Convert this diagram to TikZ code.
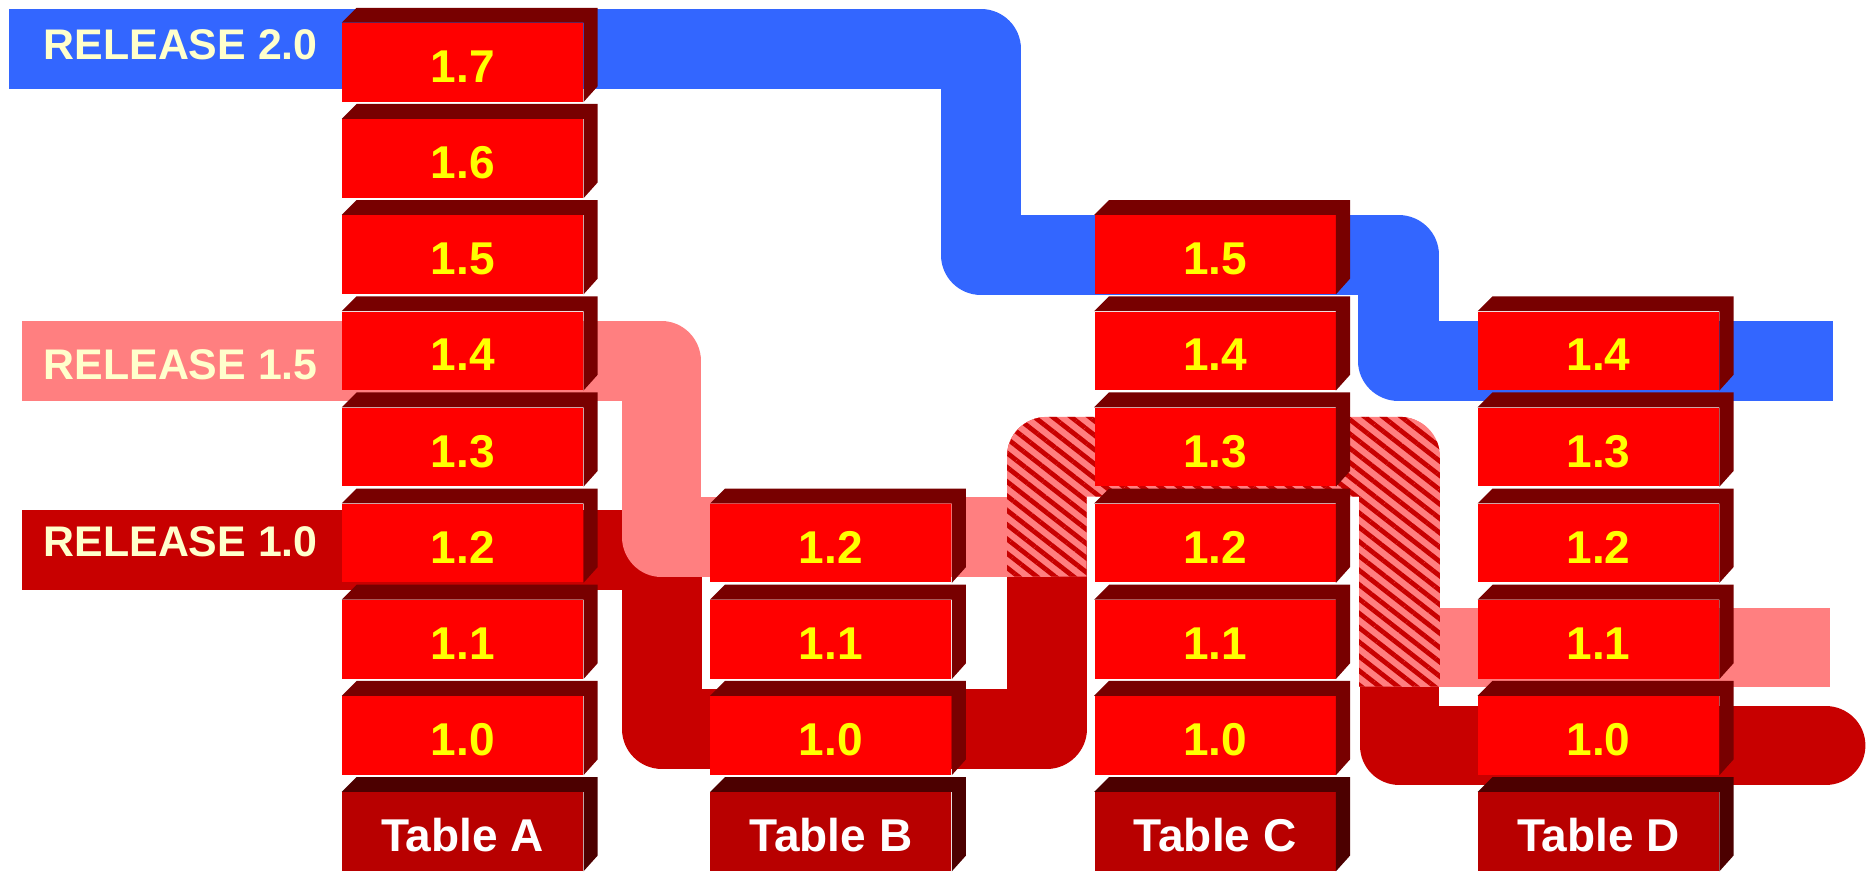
\documentclass[tikz,border=0pt]{standalone}
\usepackage{fontspec}
\setmainfont{Liberation Sans}
\usetikzlibrary{patterns.meta}
\definecolor{relBlue}{HTML}{3366FF}
\definecolor{relPink}{HTML}{FF7F80}
\definecolor{relDark}{HTML}{C80000}
\definecolor{revFront}{HTML}{FF0000}
\definecolor{revShade}{HTML}{780000}
\definecolor{tblFront}{HTML}{B80000}
\definecolor{tblShade}{HTML}{4C0000}
\definecolor{relText}{HTML}{FFFFCC}
\definecolor{numText}{HTML}{FFFF00}
\tikzstyle{band} = [line width=1.34cm, line join=round]
\tikzstyle{rev} = [fill=revFront, minimum width=4.05cm, minimum height=1.32cm, inner sep=0pt, text=numText, font={\fontsize{22}{26}\selectfont\bfseries}, text height=19.3pt, text depth=0pt]
\tikzstyle{tbl} = [rev, fill=tblFront, text=white]
\tikzstyle{revside} = [fill=revShade]
\tikzstyle{tblside} = [fill=tblShade]
\tikzstyle{rellabel} = [anchor=west, inner sep=0pt, text=relText, font={\fontsize{20.5}{24}\selectfont\bfseries}]
\tikzstyle{both} = [preaction={fill=relPink}, pattern={Lines[angle=-38, distance=0.19cm, line width=0.08cm]}, pattern color=relDark]

\begin{document}
\begin{tikzpicture}[x=0.02cm, y=-0.02cm]
  \useasboundingbox (0,0) rectangle (1568,732);
  \draw[band, relBlue, line width=1.35cm] (7.6,41.3) -- (824.3,41.3) -- (824.3,214.2) -- (1175.2,214.2) -- (1175.2,303.3) -- (1540,303.3);
  \draw[band, relDark] (18.7,462.2) -- (556,462.2) -- (556,612.5) -- (879.5,612.5) -- (879.5,383.5) -- (1176,383.5) -- (1176,626.5) -- (1534,626.5);
  \draw[band, relDark, line cap=round] (1500,626.5) -- (1534,626.5);
  \draw[band, relPink] (18.7,303.6) -- (555.8,303.6) -- (555.8,451) -- (879.5,451) -- (879.5,383.5) -- (1176,383.5) -- (1176,544) -- (1538,544);
  \path[both] (846.3,484.6) -- (846.3,383.8) arc[start angle=180, end angle=270, radius=33.5] -- (1176.5,350.3) arc[start angle=270, end angle=360, radius=33.5] -- (1210,577) -- (1142,577) -- (1142,417.3) -- (913,417.3) -- (913,484.6) -- cycle;

  \node[rellabel](r20) at (36.4,37.5){RELEASE 2.0};
  \node[rellabel](r15) at (36.4,306.8){RELEASE 1.5};
  \node[rellabel](r10) at (36.4,455){RELEASE 1.0};

  \node[rev](a7) at (388.75,52.4){1.7};
  \node[rev](a6) at (388.75,133.2){1.6};
  \node[rev](a5) at (388.75,214){1.5};
  \node[rev](a4) at (388.75,294.8){1.4};
  \node[rev](a3) at (388.75,375.6){1.3};
  \node[rev](a2) at (388.75,456.4){1.2};
  \node[rev](a1) at (388.75,537.2){1.1};
  \node[rev](a0) at (388.75,618){1.0};
  \node[tbl](ta) at (388.75,698.8){Table A};

  \node[rev](b2) at (698.25,456.4){1.2};
  \node[rev](b1) at (698.25,537.2){1.1};
  \node[rev](b0) at (698.25,618){1.0};
  \node[tbl](tb) at (698.25,698.8){Table B};

  \node[rev](c5) at (1021,214){1.5};
  \node[rev](c4) at (1021,294.8){1.4};
  \node[rev](c3) at (1021,375.6){1.3};
  \node[rev](c2) at (1021,456.4){1.2};
  \node[rev](c1) at (1021,537.2){1.1};
  \node[rev](c0) at (1021,618){1.0};
  \node[tbl](tc) at (1021,698.8){Table C};

  \node[rev](d4) at (1343.25,294.8){1.4};
  \node[rev](d3) at (1343.25,375.6){1.3};
  \node[rev](d2) at (1343.25,456.4){1.2};
  \node[rev](d1) at (1343.25,537.2){1.1};
  \node[rev](d0) at (1343.25,618){1.0};
  \node[tbl](td) at (1343.25,698.8){Table D};

  \foreach \b in {a0,a1,a2,a3,a4,a5,a6,a7,b0,b1,b2,c0,c1,c2,c3,c4,c5,d0,d1,d2,d3,d4}
    \fill[revside] (\b.north west) -- ++(12.5,-12.5) -- ++(202.5,0) -- ++(0,66) -- (\b.south east) -- (\b.north east) -- cycle;
  \foreach \b in {ta,tb,tc,td}
    \fill[tblside] (\b.north west) -- ++(12.5,-12.5) -- ++(202.5,0) -- ++(0,66) -- (\b.south east) -- (\b.north east) -- cycle;
\end{tikzpicture}
\end{document}
